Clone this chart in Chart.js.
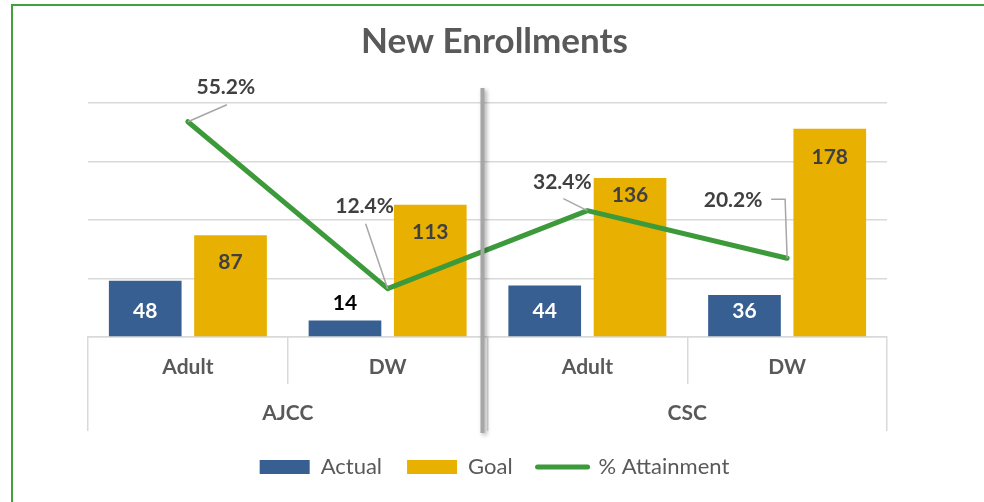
<!DOCTYPE html>
<html>
<head>
<meta charset="utf-8">
<script src="https://cdn.jsdelivr.net/npm/chart.js@4.4.1/dist/chart.umd.min.js"></script>
<style>
  html, body { margin: 0; padding: 0; background: #fff; overflow: hidden; }
  #wrap { position: relative; width: 984px; height: 502px; overflow: hidden; }
  #frame { position: absolute; left: 11px; top: 4px; width: 1100px; height: 600px; border: 2.5px solid #44a03b; box-sizing: border-box; pointer-events: none; }
  canvas { position: absolute; left: 0; top: 0; }
</style>
</head>
<body>
<div id="wrap">
  <canvas id="c" width="984" height="502"></canvas>
  <div id="frame"></div>
</div>
<script>
// ---- data ----
const subCategories = ['Adult', 'DW', 'Adult', 'DW'];
const groups = ['AJCC', 'CSC'];
const actualValues = [48, 14, 44, 36];
const goalValues = [87, 113, 136, 178];
const attainmentValues = [0.552, 0.124, 0.324, 0.202];
const seriesNames = ['Actual', 'Goal', '% Attainment'];

// ---- styling ----
const FONT = 'Lato, "Open Sans", sans-serif';
const C_ACTUAL = '#375f92';
const C_GOAL = '#e8b000';
const C_LINE = '#3d9a3b';
const C_GRID = '#d9d9d9';
const C_TEXT = '#595959';
const C_LABEL = '#404040';
const GOAL_LABEL_OFFSET = [27, 27, 17, 28];
const PCT_LABEL_OFFSET = [[38, -34], [-23, -82], [-25, -28], [-54, -58]];
const PCT_LEADERS = [[[39, -17]], [[-22, -65]], [[-24, -12]], [[-2, -59], [-16, -59]]];

const labelPlugin = {
  id: 'dataLabels',
  afterDatasetsDraw(chart) {
    const ctx = chart.ctx;
    ctx.save();
    ctx.font = 'bold 21px ' + FONT;
    ctx.textAlign = 'center';
    ctx.textBaseline = 'middle';
    // Actual
    chart.getDatasetMeta(0).data.forEach((el, i) => {
      const h = el.base - el.y;
      if (h < 35) {
        ctx.fillStyle = '#000';
        ctx.fillText(String(actualValues[i]), el.x, el.y - 17);
      } else {
        ctx.fillStyle = '#fff';
        ctx.fillText(String(actualValues[i]), el.x, el.base - 25);
      }
    });
    // Goal
    chart.getDatasetMeta(1).data.forEach((el, i) => {
      ctx.fillStyle = C_LABEL;
      ctx.fillText(String(goalValues[i]), el.x, el.y + GOAL_LABEL_OFFSET[i]);
    });
    // Attainment
    chart.getDatasetMeta(2).data.forEach((el, i) => {
      ctx.strokeStyle = '#a6a6a6';
      ctx.lineWidth = 1.5;
      ctx.beginPath();
      ctx.moveTo(el.x, el.y);
      PCT_LEADERS[i].forEach(p => ctx.lineTo(el.x + p[0], el.y + p[1]));
      ctx.stroke();
      ctx.fillStyle = C_LABEL;
      const o = PCT_LABEL_OFFSET[i];
      ctx.fillText((attainmentValues[i] * 100).toFixed(1) + '%', el.x + o[0], el.y + o[1]);
    });
    ctx.restore();
  },
  afterDraw(chart) {
    const ctx = chart.ctx;
    const xs = chart.scales.x;
    const xm = (xs.getPixelForValue(1) + xs.getPixelForValue(2)) / 2 - 5;
    ctx.save();
    ctx.shadowColor = 'rgba(0,0,0,0.35)';
    ctx.shadowBlur = 4;
    ctx.shadowOffsetX = 2;
    ctx.shadowOffsetY = 2;
    ctx.strokeStyle = '#a6a6a6';
    ctx.lineWidth = 4;
    ctx.beginPath();
    ctx.moveTo(xm, 88);
    ctx.lineTo(xm, 433);
    ctx.stroke();
    ctx.restore();
  }
};

new Chart(document.getElementById('c'), {
  type: 'bar',
  data: {
    labels: subCategories,
    datasets: [
      { label: seriesNames[0], data: actualValues, backgroundColor: C_ACTUAL, yAxisID: 'y', xAxisID: 'x', order: 1,
        categoryPercentage: 0.854, barPercentage: 0.852 },
      { label: seriesNames[1], data: goalValues, backgroundColor: C_GOAL, yAxisID: 'y', xAxisID: 'x', order: 1,
        categoryPercentage: 0.854, barPercentage: 0.852 },
      { type: 'line', label: seriesNames[2], data: attainmentValues, borderColor: C_LINE, backgroundColor: C_LINE,
        borderWidth: 5, pointRadius: 0, tension: 0, borderCapStyle: 'round', borderJoinStyle: 'round',
        yAxisID: 'y1', xAxisID: 'x', order: 0 }
    ]
  },
  options: {
    responsive: false,
    animation: false,
    devicePixelRatio: 1,
    layout: { padding: { left: 10, right: 5, top: 0, bottom: 14 } },
    plugins: {
      tooltip: { enabled: false },
      title: {
        display: true, text: 'New Enrollments', color: C_TEXT,
        font: { family: FONT, size: 35, weight: 'bold', lineHeight: 1.2 },
        padding: { top: 21, bottom: 40 }
      },
      legend: {
        position: 'bottom',
        labels: {
          color: C_TEXT,
          font: { family: FONT, size: 22 },
          usePointStyle: true,
          pointStyleWidth: 50,
          boxHeight: 14,
          padding: 25,
          sort: (a, b) => a.datasetIndex - b.datasetIndex,
          generateLabels(chart) {
            const items = Chart.defaults.plugins.legend.labels.generateLabels(chart);
            items.forEach(it => {
              if (it.datasetIndex === 2) {
                it.pointStyle = 'line'; it.lineWidth = 5; it.strokeStyle = C_LINE; it.lineCap = 'round';
              } else {
                it.pointStyle = 'rect'; it.lineWidth = 0;
              }
            });
            return items;
          }
        }
      }
    },
    scales: {
      x: {
        type: 'category', position: 'bottom', offset: true,
        grid: { offset: true, drawOnChartArea: false, color: C_GRID, lineWidth: 1.5, tickLength: 47 },
        border: { display: true, color: C_GRID, width: 1.5 },
        ticks: { color: C_TEXT, font: { family: FONT, size: 21, weight: 'bold' }, padding: -29, maxRotation: 0, autoSkip: false },
        afterFit(s) { s.height = 47; }
      },
      x2: {
        type: 'category', position: 'bottom', offset: true, labels: groups,
        grid: { offset: true, drawOnChartArea: false, color: C_GRID, lineWidth: 1.5, tickLength: 47 },
        border: { display: false },
        ticks: { color: C_TEXT, font: { family: FONT, size: 21, weight: 'bold' }, padding: -30, maxRotation: 0, autoSkip: false },
        afterFit(s) { s.height = 47; }
      },
      y: {
        position: 'left', min: 0, max: 200,
        ticks: { display: false, stepSize: 50 },
        grid: { color: C_GRID, lineWidth: 1.5, drawTicks: false },
        border: { display: false },
        afterFit(s) { s.width = 78; }
      },
      y1: {
        position: 'right', min: 0, max: 0.6,
        ticks: { display: false },
        grid: { display: false, drawOnChartArea: false },
        border: { display: false },
        afterFit(s) { s.width = 92; }
      }
    }
  },
  plugins: [labelPlugin]
});
</script>
</body>
</html>
